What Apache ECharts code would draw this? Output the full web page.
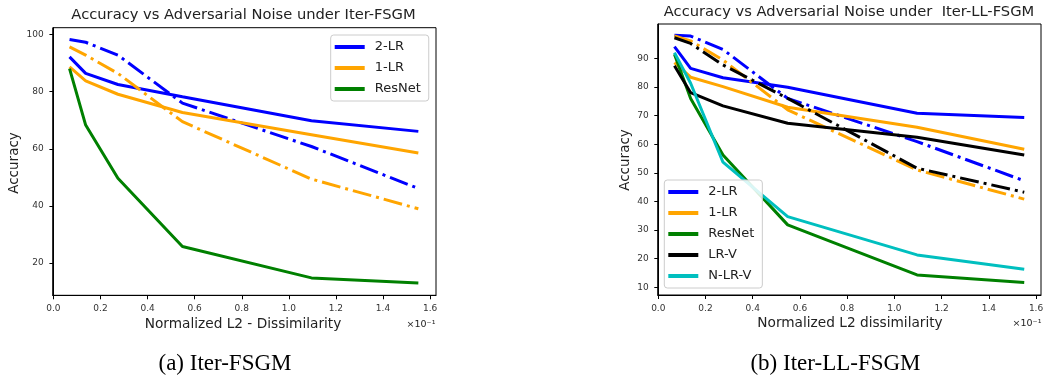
<!DOCTYPE html>
<html>
<head>
<meta charset="utf-8">
<script src="https://cdn.jsdelivr.net/npm/echarts@6/dist/echarts.min.js"></script>
<style>
  html, body { margin: 0; padding: 0; background: #fff; }
  #main { width: 1049px; height: 377px; }
</style>
</head>
<body>
<div id="main"></div>
<script>
// noise levels (x1e-1)
var noise = [0.0685, 0.137, 0.274, 0.548, 1.096, 1.55];

// (a) Iter-FSGM
var a_2lr      = [92.2, 86.4, 82.5, 78.2, 69.8, 66.1];
var a_2lrDash  = [98.3, 97.3, 92.8, 76.0, 60.8, 46.1];
var a_1lr      = [88.7, 83.8, 79.1, 72.7, 64.9, 58.5];
var a_1lrDash  = [95.7, 92.8, 86.4, 69.5, 49.4, 39.0];
var a_resnet   = [88.1, 68.3, 49.7, 25.8, 14.8, 13.0];

// (b) Iter-LL-FSGM
var b_2lr      = [94.1, 86.5, 83.2, 79.9, 70.8, 69.3];
var b_2lrDash  = [98.1, 97.8, 93.1, 76.0, 60.9, 47.2];
var b_1lr      = [88.5, 83.4, 80.1, 72.9, 65.9, 58.2];
var b_1lrDash  = [97.8, 96.1, 89.4, 72.0, 51.0, 40.8];
var b_resnet   = [91.4, 76.0, 56.2, 31.8, 14.3, 11.7];
var b_lrv      = [87.4, 78.0, 73.4, 67.3, 62.4, 56.2];
var b_lrvDash  = [97.2, 95.2, 87.7, 76.0, 51.6, 43.2];
var b_nlrv     = [92.0, 81.3, 53.7, 34.7, 21.3, 16.3];

var xTicks = [0, 0.2, 0.4, 0.6, 0.8, 1.0, 1.2, 1.4, 1.6];
var yTicksA = [20, 40, 60, 80, 100];
var yTicksB = [10, 20, 30, 40, 50, 60, 70, 80, 90];

var FONT = 'DejaVu Sans';
var dashDot = [19, 5, 3, 5];

function pts(ys) {
    return noise.map(function (x, i) { return [x, ys[i]]; });
}

function mkX(idx, min, max) {
    return {
        type: 'value', gridIndex: idx, min: min, max: max,
        axisLine: { show: true, lineStyle: { color: '#000', width: 1 } },
        axisTick: { show: true, customValues: xTicks, length: 4, lineStyle: { color: '#000' } },
        axisLabel: { customValues: xTicks, fontFamily: FONT, fontSize: 9, color: '#333', margin: 9,
            formatter: function (v) { return v.toFixed(1); } },
        splitLine: { show: false }
    };
}

function mkY(idx, min, max, ticks) {
    return {
        type: 'value', gridIndex: idx, min: min, max: max,
        axisLine: { show: true, lineStyle: { color: '#000', width: 1 } },
        axisTick: { show: true, customValues: ticks, length: 4, lineStyle: { color: '#000' } },
        axisLabel: { customValues: ticks, fontFamily: FONT, fontSize: 9, color: '#333', margin: 9 },
        splitLine: { show: false }
    };
}

function line(name, idx, ys, color, dashed) {
    return {
        name: name, type: 'line', xAxisIndex: idx, yAxisIndex: idx,
        data: pts(ys), symbol: 'none', smooth: false, animation: false,
        lineStyle: { color: color, width: 3, type: dashed ? dashDot : 'solid', cap: 'butt' },
        itemStyle: { color: color }
    };
}

function txt(x, y, s, size, opts) {
    var t = {
        type: 'text', x: x, y: y,
        style: { text: s, font: size + 'px "' + FONT + '"', fill: '#222',
            textAlign: 'center', textVerticalAlign: 'middle' }
    };
    if (opts) { for (var k in opts) t[k] = opts[k]; }
    return t;
}

function legendBox(left, top, names) {
    return {
        orient: 'vertical', left: left, top: top, data: names,
        icon: 'rect', itemWidth: 30, itemHeight: 4, itemGap: 7,
        padding: [5, 8, 5, 4],
        backgroundColor: 'rgba(255,255,255,0.85)', borderColor: '#ccc', borderWidth: 1, borderRadius: 3,
        textStyle: { fontFamily: FONT, fontSize: 13, color: '#222', lineHeight: 14, padding: [0, 0, 0, 5] }
    };
}

var chart = echarts.init(document.getElementById('main'), null, { renderer: 'canvas' });

chart.setOption({
    backgroundColor: '#fff',
    animation: false,
    grid: [
        { left: 52.7, top: 27.7, width: 383.3, height: 267.6, show: true, borderColor: '#000', borderWidth: 1, backgroundColor: 'transparent' },
        { left: 657.7, top: 24, width: 383.3, height: 271, show: true, borderColor: '#000', borderWidth: 1, backgroundColor: 'transparent' }
    ],
    xAxis: [mkX(0, -0.003, 1.625), mkX(1, -0.0025, 1.621)],
    yAxis: [mkY(0, 8.7, 102.4, yTicksA), mkY(1, 7.3, 102, yTicksB)],
    legend: [
        legendBox(330.7, 35, ['2-LR', '1-LR', 'ResNet']),
        legendBox(664.3, 180, ['2-LR', '1-LR', 'ResNet', 'LR-V', 'N-LR-V'])
    ],
    series: [
        line('2-LR', 0, a_2lr, '#0000ff', false),
        line('2-LR dash-dot', 0, a_2lrDash, '#0000ff', true),
        line('1-LR', 0, a_1lr, '#ffa500', false),
        line('1-LR dash-dot', 0, a_1lrDash, '#ffa500', true),
        line('ResNet', 0, a_resnet, '#008000', false),

        line('2-LR', 1, b_2lr, '#0000ff', false),
        line('2-LR dash-dot', 1, b_2lrDash, '#0000ff', true),
        line('1-LR', 1, b_1lr, '#ffa500', false),
        line('1-LR dash-dot', 1, b_1lrDash, '#ffa500', true),
        line('ResNet', 1, b_resnet, '#008000', false),
        line('LR-V', 1, b_lrv, '#000000', false),
        line('LR-V dash-dot', 1, b_lrvDash, '#000000', true),
        line('N-LR-V', 1, b_nlrv, '#00bfbf', false)
    ],
    graphic: [
        txt(243.5, 15.5, 'Accuracy vs Adversarial Noise under Iter-FSGM', 14.7),
        txt(849, 12.5, 'Accuracy vs Adversarial Noise under  Iter-LL-FSGM', 14.7),
        txt(14, 163, 'Accuracy', 13.5, { rotation: Math.PI / 2 }),
        txt(625, 160, 'Accuracy', 13.5, { rotation: Math.PI / 2 }),
        txt(243, 324, 'Normalized L2 - Dissimilarity', 13.7),
        txt(850, 323, 'Normalized L2 dissimilarity', 13.7),
        txt(421, 325, '×10⁻¹', 9.5),
        txt(1027, 324, '×10⁻¹', 9.5),
        { type: 'text', x: 225, y: 364, style: { text: '(a) Iter-FSGM', font: '23px "Liberation Serif"', fill: '#000', textAlign: 'center', textVerticalAlign: 'middle' } },
        { type: 'text', x: 835.5, y: 364, style: { text: '(b) Iter-LL-FSGM', font: '23px "Liberation Serif"', fill: '#000', textAlign: 'center', textVerticalAlign: 'middle' } }
    ]
});
</script>
</body>
</html>
